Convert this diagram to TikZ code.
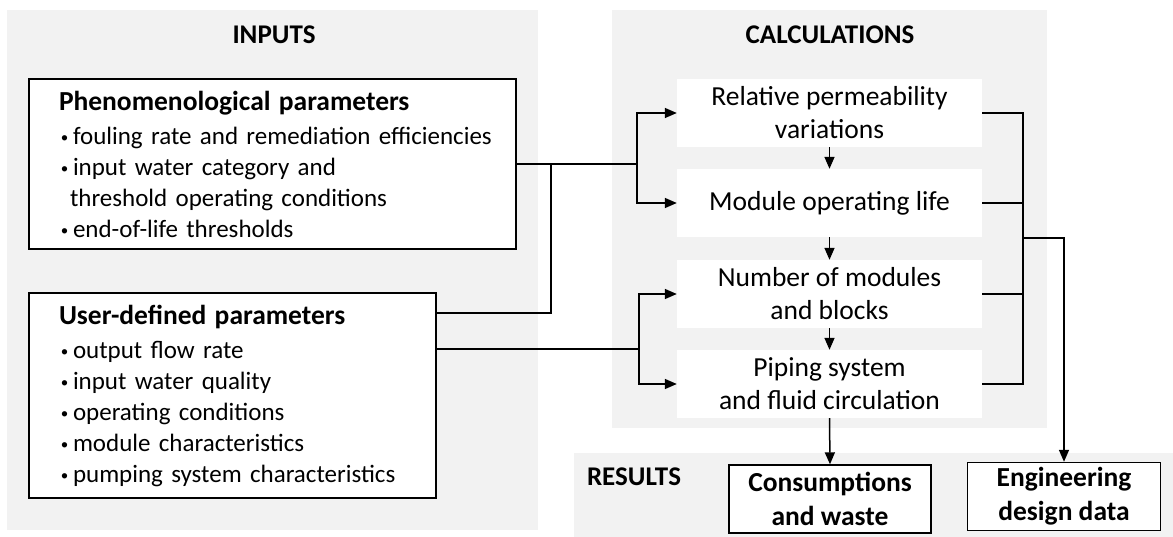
\documentclass[tikz,border=0pt]{standalone}
\usepackage{fontspec}
\setmainfont{Carlito}
\usetikzlibrary{arrows.meta}
\definecolor{panelgray}{HTML}{F2F2F2}
\newcommand\bul{\hspace*{2pt}\makebox[12pt][l]{\raisebox{1.5pt}{\fontsize{15}{15}\selectfont•}}}
\begin{document}
\begin{tikzpicture}[x=1pt,y=-1pt,
  panelbox/.style={fill=panelgray,draw=none,inner sep=0pt},
  head/.style={font=\fontsize{27}{32}\selectfont\bfseries,inner sep=0pt},
  inbox/.style={draw=black,line width=1.4pt,fill=white,inner xsep=0pt,inner ysep=0pt,
    align=left,font=\fontsize{25}{31}\selectfont},
  calcbox/.style={fill=white,draw=none,minimum width=305pt,minimum height=68pt,inner sep=0pt,
    align=center,font=\fontsize{27.5}{33}\selectfont},
  resbox/.style={draw=black,line width=1.4pt,fill=white,minimum height=68pt,inner sep=0pt,
    align=center,font=\fontsize{27.5}{34}\selectfont\bfseries},
  conn/.style={line width=1.5pt,black},
  arr/.style={conn,-{Triangle[length=12pt,width=10pt]}}
]
\useasboundingbox (0,0) rectangle (1173,537);
% panels
\fill[panelgray] (7,10) rectangle (538,530);
\fill[panelgray] (612,10) rectangle (1047,428);
\fill[panelgray] (574,453) rectangle (1173,537);
% headings
\node[head] (hin) at (274,35) {INPUTS};
\node[head] (hcalc) at (830,35) {CALCULATIONS};
\node[head] (hres) at (634,477) {RESULTS};
% input boxes
\node[inbox,text width=487pt,minimum height=170pt] (phen) at (272.5,164) {\leftskip=30pt\hyphenpenalty=10000
{\fontsize{27.5}{31}\selectfont\bfseries Phenomenological parameters\par}\vspace{3pt}
\bul fouling rate and remediation efficiencies\par
\bul input water category and\par
\hspace*{11pt}threshold operating conditions\par
\bul end-of-life thresholds\par};
\node[inbox,text width=407pt,minimum height=205pt] (usr) at (232.5,395.5) {\leftskip=30pt\hyphenpenalty=10000
{\fontsize{27.5}{31}\selectfont\bfseries User-defined parameters\par}\vspace{3pt}
\bul output flow rate\par
\bul input water quality\par
\bul operating conditions\par
\bul module characteristics\par
\bul pumping system characteristics\par};
% calculation boxes
\node[calcbox] (rel) at (829.5,113) {Relative permeability\\variations};
\node[calcbox] (mod) at (829.5,203) {Module operating life};
\node[calcbox] (num) at (829.5,294) {Number of modules\\and blocks};
\node[calcbox] (pip) at (829.5,384) {Piping system\\and fluid circulation};
% result boxes
\node[resbox,minimum width=202pt] (cons) at (830,499) {Consumptions\\and waste};
\node[resbox,minimum width=193pt] (eng) at (1064,496.5) {Engineering\\design data};
% connectors
\coordinate (j1) at (637,164);
\coordinate (j3) at (551,164);
\coordinate (u1) at (551,313);
\coordinate (j2) at (639,349);
\coordinate (cx) at (1023,238);
\draw[conn] (phen.east) -- (j1);
\draw[arr] (j1) |- (rel.west);
\draw[arr] (j1) |- (mod.west);
\draw[conn] (u1 -| usr.east) -- (u1) -- (j3);
\draw[conn] (j2 -| usr.east) -- (j2);
\draw[arr] (j2) |- (num.west);
\draw[arr] (j2) |- (pip.west);
\draw[arr] (rel.south) -- (mod.north);
\draw[arr] (mod.south) -- (num.north);
\draw[arr] (num.south) -- (pip.north);
\draw[conn] (rel.east) -- (rel.east -| cx) -- (pip.east -| cx) -- (pip.east);
\draw[conn] (mod.east) -- (mod.east -| cx);
\draw[conn] (num.east) -- (num.east -| cx);
\draw[arr] (cx) -| (eng.north);
\draw[arr] (pip.south) -- (cons.north);
\end{tikzpicture}
\end{document}
